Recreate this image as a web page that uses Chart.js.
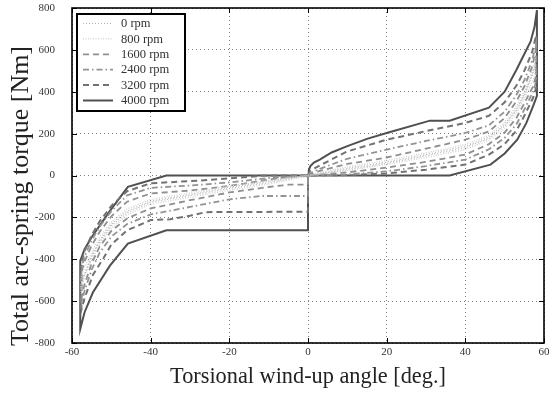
<!DOCTYPE html>
<html><head><meta charset="utf-8">
<script src="https://cdn.jsdelivr.net/npm/chart.js@4.4.0/dist/chart.umd.min.js"></script>
<style>html,body{margin:0;padding:0;background:#fff;}</style>
</head><body>
<canvas id="c" width="551" height="394"></canvas>
<script>
const seriesNames = ['0 rpm','800 rpm','1600 rpm','2400 rpm','3200 rpm','4000 rpm'];
const xTicks = [-60,-40,-20,0,20,40,60];
const yTicks = [-800,-600,-400,-200,0,200,400,600,800];
const xTitle = 'Torsional wind-up angle [deg.]';
const yTitle = 'Total arc-spring torque [Nm]';

const rpm0 = [[0,0],[3,10],[10,35],[20,64],[30,100],[40,140],[46,183],[50,244],[53,318],[55,388],[57,483],[57.8,540],[57.8,525],[57,477],[55,382],[53,312],[50,236],[46,177],[40,132],[30,94],[20,58],[10,29],[3,7],[0,0],[-3,-7],[-10,-29],[-20,-56],[-30,-90],[-40,-122],[-46,-170],[-50,-232],[-53,-310],[-55,-382],[-57,-477],[-57.7,-525],[-57.7,-540],[-57,-483],[-55,-388],[-53,-318],[-50,-240],[-46,-178],[-40,-128],[-30,-96],[-20,-62],[-10,-35],[-3,-10],[0,0]];
const rpm800 = [[0,0],[3,14],[10,42],[20,72],[30,108],[40,148],[46,192],[50,255],[53,332],[55,402],[57,498],[57.8,565],[57.8,495],[57.2,455],[55,368],[53,298],[50,225],[46,168],[40,124],[30,86],[20,52],[10,24],[3,6],[0,0],[-3,-6],[-10,-24],[-20,-50],[-30,-82],[-40,-114],[-46,-160],[-50,-222],[-53,-296],[-55,-366],[-57.2,-455],[-57.7,-495],[-57.7,-565],[-57,-498],[-55,-402],[-53,-332],[-50,-252],[-46,-188],[-40,-136],[-30,-104],[-20,-70],[-10,-42],[-3,-14],[0,-8],[0,0]];
const rpm1600 = [[0,0],[1,10],[3,22],[10,55],[20,86],[30,128],[40,171],[46,210],[50,275],[53,355],[55,425],[57,520],[57.9,600],[57.9,470],[57.2,425],[55,345],[53,275],[50,205],[46,150],[40,100],[30,65],[20,38],[10,15],[0,0],[-5,-6],[-10,-20],[-20,-50],[-30,-72],[-40,-86],[-46,-125],[-50,-195],[-53,-270],[-55,-335],[-56.8,-410],[-57.6,-460],[-57.6,-580],[-56.8,-520],[-55,-420],[-53,-340],[-50,-265],[-46,-205],[-40,-157],[-30,-118],[-20,-81],[-10,-55],[-5,-44],[0,-44],[0,0]];
const rpm2400 = [[0,0],[1,15],[3,32],[10,80],[20,124],[30,165],[40,203],[46,240],[50,305],[53,385],[55,455],[57,550],[58,630],[58,450],[57.2,400],[55,315],[53,245],[50,180],[46,125],[40,76],[30,45],[20,20],[10,5],[0,0],[-10,-12],[-20,-33],[-30,-48],[-40,-59],[-46,-95],[-50,-170],[-53,-245],[-55,-310],[-56.8,-385],[-57.6,-440],[-57.6,-610],[-56.8,-550],[-55,-450],[-53,-370],[-50,-292],[-46,-232],[-40,-186],[-30,-150],[-20,-114],[-12,-98],[0,-98],[0,0]];
const rpm3200 = [[0,0],[0.5,22],[3,48],[10,115],[20,171],[30,212],[40,251],[46,285],[50,350],[53,430],[55,500],[57,590],[58,670],[58,420],[57.2,370],[55,285],[53,215],[50,150],[46,100],[40,52],[30,28],[20,10],[10,2],[0,0],[-11,0],[-20,-14],[-30,-27],[-40,-37],[-46,-75],[-50,-145],[-53,-220],[-55,-285],[-56.8,-360],[-57.6,-420],[-57.6,-640],[-56.8,-586],[-54.7,-475],[-52,-395],[-50,-330],[-46,-262],[-40,-213],[-35,-209],[-30,-192],[-26,-175],[0,-173],[0,0]];
const rpm4000 = [[0,0],[0.2,25],[0.6,45],[1.5,62],[3,76],[6,110],[10,140],[15,175],[20,203],[31,262],[36,262],[46,324],[50,400],[53,505],[55,580],[56.6,640],[57.6,710],[58.2,790],[58.2,380],[57.4,340],[55.5,250],[53.2,171],[50,105],[46.4,52],[36,0],[0,0],[-36,0],[-45.8,-54],[-50.4,-170],[-55.1,-297],[-56.8,-352],[-57.9,-408],[-57.9,-733],[-56.8,-653],[-54.7,-559],[-50.4,-432],[-45.8,-325],[-36,-262],[0,-262],[0,0]];

const seriesData = [rpm0, rpm800, rpm1600, rpm2400, rpm3200, rpm4000];
const styles = [
  {color:'#b4b4b4', width:1.2, dash:[1,2]},
  {color:'#cfcfcf', width:1.2, dash:[1,1.5]},
  {color:'#8f8f8f', width:1.8, dash:[6,4]},
  {color:'#939393', width:1.8, dash:[6,3,1.5,3]},
  {color:'#727272', width:2, dash:[6,4]},
  {color:'#505050', width:2, dash:[]}
];
const SERIF = '"Liberation Serif", "DejaVu Serif", serif';

const datasets = seriesData.map((d,i)=>({
  label: seriesNames[i],
  data: d.map(p=>({x:p[0], y:p[1]})),
  showLine:true, pointRadius:0, borderColor:styles[i].color, borderWidth:styles[i].width,
  borderDash:styles[i].dash, tension:0, fill:false
}));

const decor = {
  id:'decor',
  afterDraw(chart){
    const ctx = chart.ctx, a = chart.chartArea, xs = chart.scales.x, ys = chart.scales.y;
    ctx.save();
    ctx.strokeStyle = '#000'; ctx.lineWidth = 1; ctx.setLineDash([]);
    xTicks.forEach(v=>{ const px = Math.round(xs.getPixelForValue(v))+0.5;
      ctx.beginPath(); ctx.moveTo(px,a.bottom); ctx.lineTo(px,a.bottom-5); ctx.moveTo(px,a.top); ctx.lineTo(px,a.top+5); ctx.stroke(); });
    yTicks.forEach(v=>{ const py = Math.round(ys.getPixelForValue(v))+0.5;
      ctx.beginPath(); ctx.moveTo(a.left,py); ctx.lineTo(a.left+5,py); ctx.moveTo(a.right,py); ctx.lineTo(a.right-5,py); ctx.stroke(); });
    ctx.lineWidth = 1.6; ctx.strokeStyle = '#000';
    ctx.strokeRect(a.left, a.top, a.right-a.left, a.bottom-a.top);
    const lx = 77, ly = 14, lw = 108, lh = 97;
    ctx.fillStyle = '#fff'; ctx.fillRect(lx,ly,lw,lh);
    ctx.lineWidth = 2; ctx.strokeStyle = '#000'; ctx.strokeRect(lx,ly,lw,lh);
    ctx.font = '12.5px ' + SERIF; ctx.textBaseline = 'middle'; ctx.textAlign = 'left';
    seriesNames.forEach((n,i)=>{
      const y = 23.5 + i*15.4;
      ctx.strokeStyle = styles[i].color; ctx.lineWidth = styles[i].width; ctx.setLineDash(styles[i].dash);
      ctx.beginPath(); ctx.moveTo(83,y); ctx.lineTo(113,y); ctx.stroke();
      ctx.setLineDash([]); ctx.fillStyle = '#333'; ctx.fillText(n, 121, y+0.5);
    });
    ctx.fillStyle = '#222';
    ctx.font = '19px ' + SERIF;
    let w = ctx.measureText(xTitle).width; let fs = 19*276/w;
    ctx.font = fs.toFixed(2)+'px ' + SERIF; ctx.textAlign='center'; ctx.textBaseline='middle';
    ctx.fillText(xTitle, (a.left+a.right)/2, 377);
    ctx.font = '19px ' + SERIF;
    w = ctx.measureText(yTitle).width; fs = 19*300/w;
    ctx.font = fs.toFixed(2)+'px ' + SERIF;
    ctx.translate(21, 196); ctx.rotate(-Math.PI/2); ctx.fillText(yTitle, 0, 0);
    ctx.restore();
  }
};

new Chart(document.getElementById('c'), {
  type:'scatter',
  data:{datasets},
  options:{
    responsive:false, animation:false, devicePixelRatio:1,
    layout:{autoPadding:false, padding:{left:0,right:7,top:8,bottom:0}},
    plugins:{legend:{display:false}, tooltip:{enabled:false}, title:{display:false}},
    scales:{
      x:{type:'linear', min:-60, max:60,
        ticks:{stepSize:20, color:'#333', font:{family:SERIF, size:11}, padding:3, maxRotation:0, callback:v=>String(v)},
        grid:{color:'rgba(0,0,0,0.5)', lineWidth:1, drawTicks:false},
        border:{display:false, dash:[1,3]},
        afterFit(s){ s.height = 51; s.paddingLeft = 0; s.paddingRight = 0; }
      },
      y:{type:'linear', min:-800, max:800,
        ticks:{stepSize:200, color:'#333', font:{family:SERIF, size:11}, padding:17, callback:v=>String(v)},
        grid:{color:'rgba(0,0,0,0.5)', lineWidth:1, drawTicks:false},
        border:{display:false, dash:[1,3]},
        afterFit(s){ s.width = 72; s.paddingTop = 0; s.paddingBottom = 0; }
      }
    }
  },
  plugins:[decor]
});
</script>
</body></html>
